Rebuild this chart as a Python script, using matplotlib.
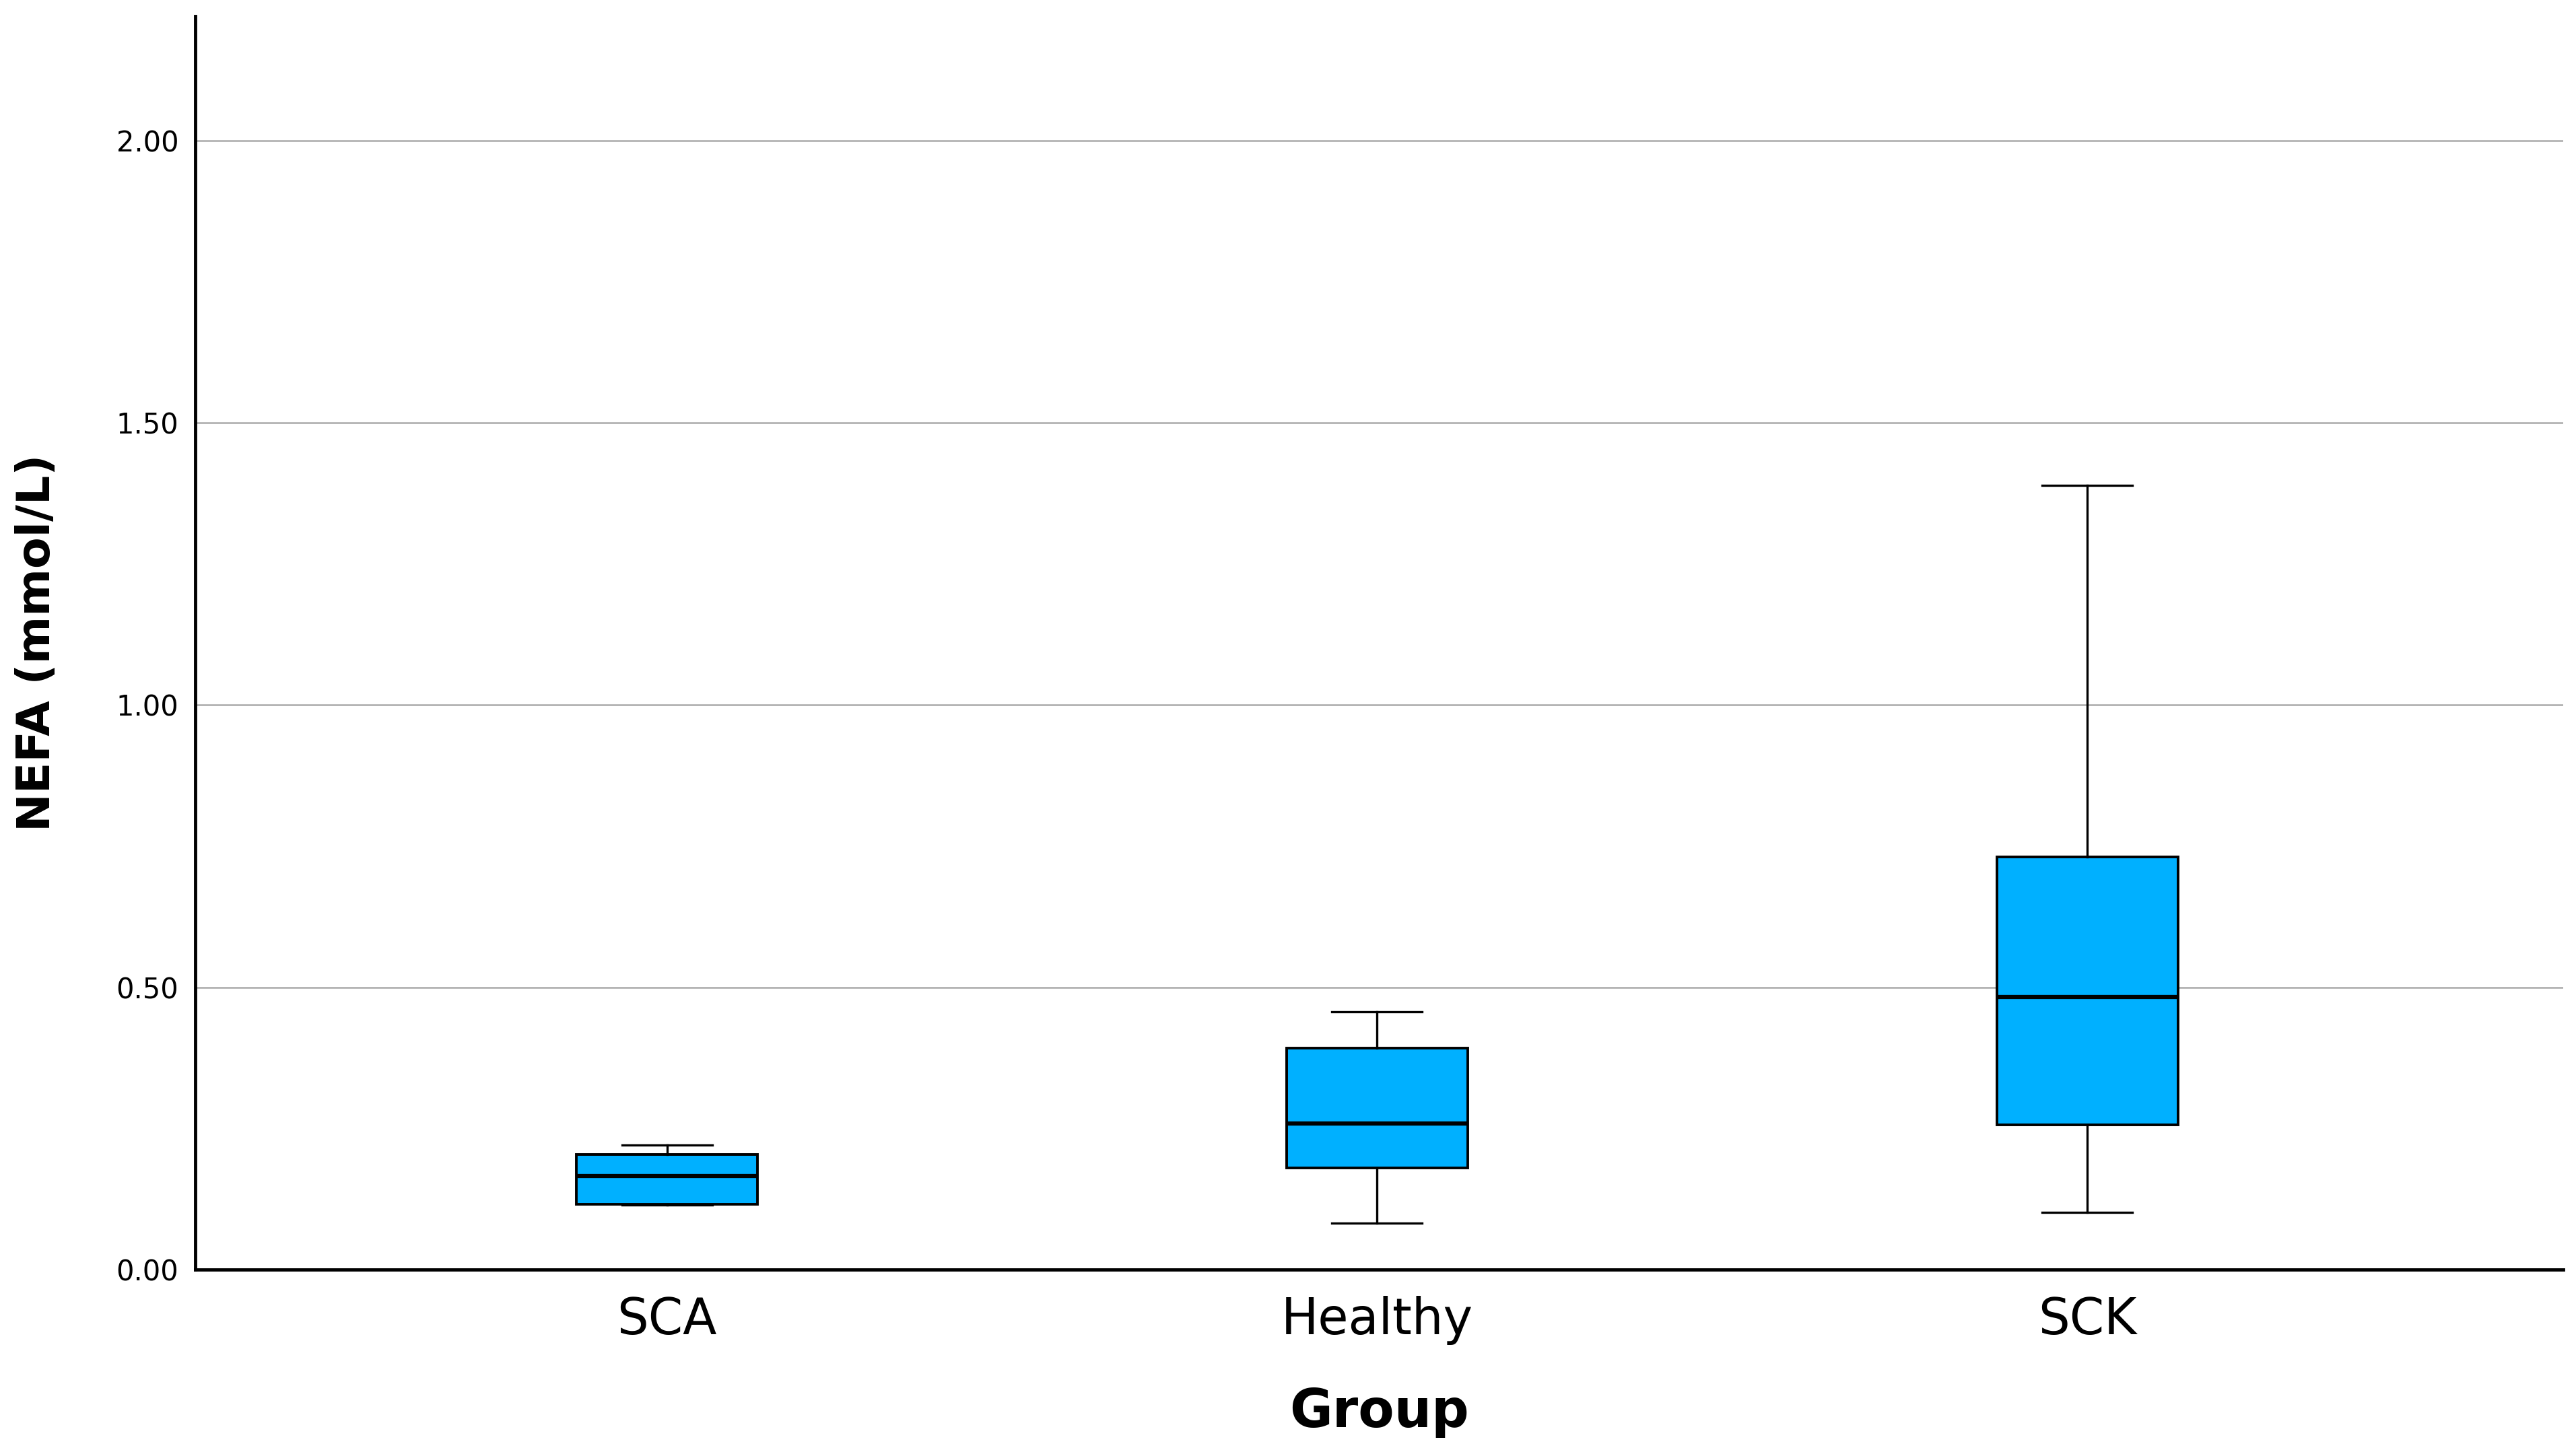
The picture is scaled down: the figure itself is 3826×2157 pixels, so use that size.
import matplotlib
matplotlib.use("Agg")
import matplotlib.pyplot as plt

# values (mmol/L)
groups = ["SCA", "Healthy", "SCK"]
whisker_low = [0.114, 0.082, 0.102]
q1 = [0.116, 0.180, 0.256]
median = [0.166, 0.259, 0.483]
q3 = [0.204, 0.393, 0.731]
whisker_high = [0.221, 0.457, 1.389]
y_ticks = [0.0, 0.5, 1.0, 1.5, 2.0]

box_color = "#00B0FF"

stats = []
for i, name in enumerate(groups):
    stats.append(
        {
            "label": name,
            "whislo": whisker_low[i],
            "q1": q1[i],
            "med": median[i],
            "q3": q3[i],
            "whishi": whisker_high[i],
            "fliers": [],
        }
    )

fig = plt.figure(figsize=(38.26, 21.57), dpi=100)
ax = fig.add_axes([0.0759, 0.1256, 0.9191, 0.8631])

ax.bxp(
    stats,
    positions=range(len(groups)),
    widths=0.255,
    patch_artist=True,
    showfliers=False,
    boxprops=dict(facecolor=box_color, edgecolor="black", linewidth=2.8),
    medianprops=dict(color="black", linewidth=4.5),
    whiskerprops=dict(color="black", linewidth=2.4),
    capprops=dict(color="black", linewidth=2.4),
    capwidths=0.127,
    zorder=3,
)

ax.set_xlim(-0.664, 2.67)
ax.set_ylim(0, 2.22)
ax.set_yticks(y_ticks)
ax.set_yticklabels([f"{t:.2f}" for t in y_ticks], fontsize=30)
ax.set_xticks(range(len(groups)))
ax.set_xticklabels(groups, fontsize=53)
ax.tick_params(axis="both", length=0)
ax.tick_params(axis="y", pad=18)
ax.tick_params(axis="x", pad=28)

ax.yaxis.grid(True, color="#aaaaaa", linewidth=1.8, zorder=0)
ax.set_axisbelow(True)

for side in ["top", "right"]:
    ax.spines[side].set_visible(False)
ax.spines["left"].set_linewidth(3.5)
ax.spines["bottom"].set_linewidth(3.5)

ax.set_xlabel("Group", fontsize=56, fontweight="bold", labelpad=45)
ax.set_ylabel("NEFA (mmol/L)", fontsize=49, fontweight="bold")
ax.yaxis.set_label_coords(-0.0575, 0.5)

fig.savefig("out.png", dpi=100, facecolor="white")
